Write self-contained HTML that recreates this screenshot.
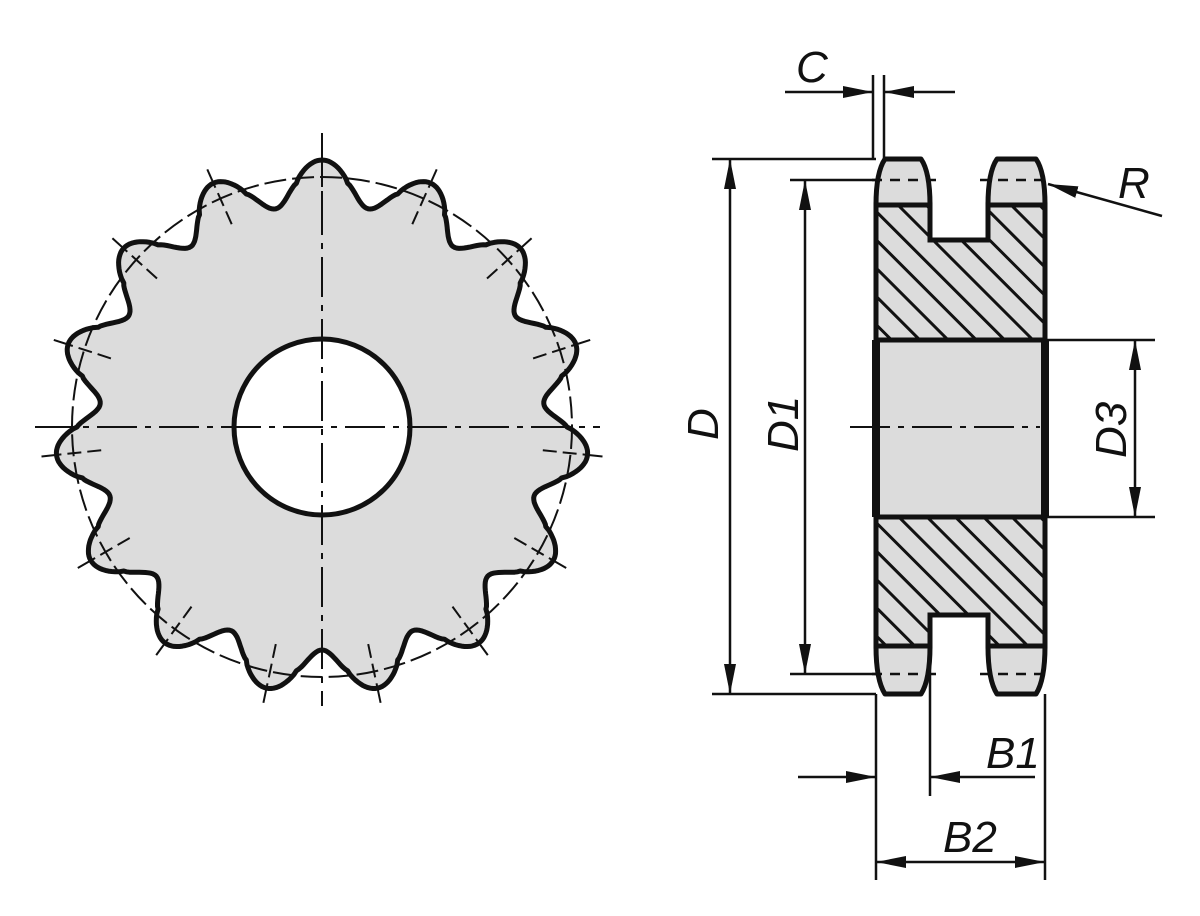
<!DOCTYPE html>
<html><head><meta charset="utf-8"><style>
html,body{margin:0;padding:0;background:#fff}
svg{display:block}
text{font-family:"Liberation Sans",sans-serif;font-style:italic;font-size:44px;fill:#111}
</style></head><body>
<svg id="s" width="1200" height="916" viewBox="0 0 1200 916" xmlns="http://www.w3.org/2000/svg">
<defs>
<marker id="a" viewBox="0 0 30 12" refX="30" refY="6" markerWidth="30" markerHeight="12" markerUnits="userSpaceOnUse" orient="auto"><path d="M0,0L30,6L0,12z" fill="#111"/></marker>
<pattern id="h" patternUnits="userSpaceOnUse" width="20" height="20" patternTransform="rotate(-45)"><rect width="20" height="20" fill="#dcdcdc"/><rect x="8.5" y="0" width="3" height="20" fill="#111"/></pattern>
</defs>
<path id="gear" fill="#dcdcdc" stroke="#111" stroke-width="5" stroke-linejoin="round"/>
<circle cx="322" cy="427" r="250" fill="none" stroke="#111" stroke-width="2" stroke-dasharray="22 6"/>
<g id="ticks" stroke="#111" stroke-width="2"></g>
<circle cx="322" cy="427" r="88" fill="#fff" stroke="#111" stroke-width="5"/>
<line x1="322" y1="133" x2="322" y2="706" stroke="#111" stroke-width="2" stroke-dasharray="40 8 6 8"/>
<line x1="35" y1="427" x2="600" y2="427" stroke="#111" stroke-width="2" stroke-dasharray="40 8 6 8"/>

<path d="M876,205 Q876,172 885,159 L921,159 Q930,172 930,205 Z M988,205 Q988,172 997,159 L1036,159 Q1045,172 1045,205 Z M876,646 Q876,680 885,694 L921,694 Q930,680 930,646 Z M988,646 Q988,680 997,694 L1036,694 Q1045,680 1045,646 Z" fill="#dcdcdc" stroke="#111" stroke-width="5" stroke-linejoin="round"/>
<path d="M876,205 L930,205 L930,240 L988,240 L988,205 L1045,205 L1045,340 L876,340 Z" fill="url(#h)" stroke="#111" stroke-width="5"/>
<path d="M876,517 L1045,517 L1045,646 L988,646 L988,615 L930,615 L930,646 L876,646 Z" fill="url(#h)" stroke="#111" stroke-width="5"/>
<rect x="876" y="340" width="169" height="177" fill="#dcdcdc" stroke="#111" stroke-width="5"/>
<line x1="876" y1="340" x2="876" y2="517" stroke="#111" stroke-width="8"/>
<line x1="1045" y1="340" x2="1045" y2="517" stroke="#111" stroke-width="8"/>
<g stroke="#111" stroke-width="2.5" stroke-dasharray="10 8">
<line x1="872" y1="180" x2="936" y2="180"/><line x1="980" y1="180" x2="1052" y2="180"/>
<line x1="872" y1="674" x2="936" y2="674"/><line x1="980" y1="674" x2="1052" y2="674"/>
</g>
<line x1="850" y1="427" x2="1040" y2="427" stroke="#111" stroke-width="2" stroke-dasharray="40 8 6 8"/>

<g stroke="#111" stroke-width="2.5" fill="none">
<line x1="712" y1="159" x2="876" y2="159"/><line x1="712" y1="694" x2="876" y2="694"/>
<line x1="730" y1="426" x2="730" y2="159" marker-end="url(#a)"/>
<line x1="730" y1="426" x2="730" y2="694" marker-end="url(#a)"/>
<line x1="790" y1="180" x2="876" y2="180"/><line x1="790" y1="674" x2="876" y2="674"/>
<line x1="805" y1="426" x2="805" y2="180" marker-end="url(#a)"/>
<line x1="805" y1="426" x2="805" y2="674" marker-end="url(#a)"/>
<line x1="1045" y1="340" x2="1155" y2="340"/><line x1="1045" y1="517" x2="1155" y2="517"/>
<line x1="1135" y1="428" x2="1135" y2="340" marker-end="url(#a)"/>
<line x1="1135" y1="428" x2="1135" y2="517" marker-end="url(#a)"/>
<line x1="873" y1="75" x2="873" y2="159"/><line x1="884" y1="75" x2="884" y2="159"/>
<line x1="785" y1="92" x2="873" y2="92" marker-end="url(#a)"/>
<line x1="955" y1="92" x2="884" y2="92" marker-end="url(#a)"/>
<line x1="1162" y1="216" x2="1048" y2="184" marker-end="url(#a)"/>
<line x1="876" y1="694" x2="876" y2="880"/><line x1="1045" y1="694" x2="1045" y2="880"/>
<line x1="930" y1="646" x2="930" y2="796"/>
<line x1="798" y1="777" x2="876" y2="777" marker-end="url(#a)"/>
<line x1="1035" y1="777" x2="930" y2="777" marker-end="url(#a)"/>
<line x1="960" y1="862" x2="876" y2="862" marker-end="url(#a)"/>
<line x1="960" y1="862" x2="1045" y2="862" marker-end="url(#a)"/>
</g>
<text x="796" y="82">C</text>
<text x="1118" y="198">R</text>
<text x="986" y="768">B1</text>
<text x="943" y="852">B2</text>
<text transform="translate(718,440) rotate(-90)">D</text>
<text transform="translate(798,452) rotate(-90)">D1</text>
<text transform="translate(1126,458) rotate(-90)">D3</text>
</svg>
<script>
(function(){
var cx=322,cy=427,N=15,d="";
for(var i=0;i<=720;i++){
 var t=i/720*2*Math.PI;
 var c=Math.cos(N*t);
 var f=c>0?Math.pow(c,0.8):-Math.pow(-c,1.3);
 var r=245+22*f;
 var x=cx+r*Math.sin(t),y=cy-r*Math.cos(t);
 d+=(i?"L":"M")+x.toFixed(1)+","+y.toFixed(1);
}
document.getElementById("gear").setAttribute("d",d+"Z");
var g=document.getElementById("ticks"),h="";
for(var k=0;k<N;k++){
 var t=k*2*Math.PI/N,s=Math.sin(t),c=Math.cos(t);
 function p(r){return [(cx+r*s).toFixed(1),(cy-r*c).toFixed(1)];}
 var a=p(262),b=p(282),e=p(222),f2=p(256);
 h+='<line x1="'+a[0]+'" y1="'+a[1]+'" x2="'+b[0]+'" y2="'+b[1]+'"/>';
 h+='<line x1="'+e[0]+'" y1="'+e[1]+'" x2="'+f2[0]+'" y2="'+f2[1]+'" stroke-dasharray="14 6"/>';
}
g.innerHTML=h;
})();
</script>
</body></html>
